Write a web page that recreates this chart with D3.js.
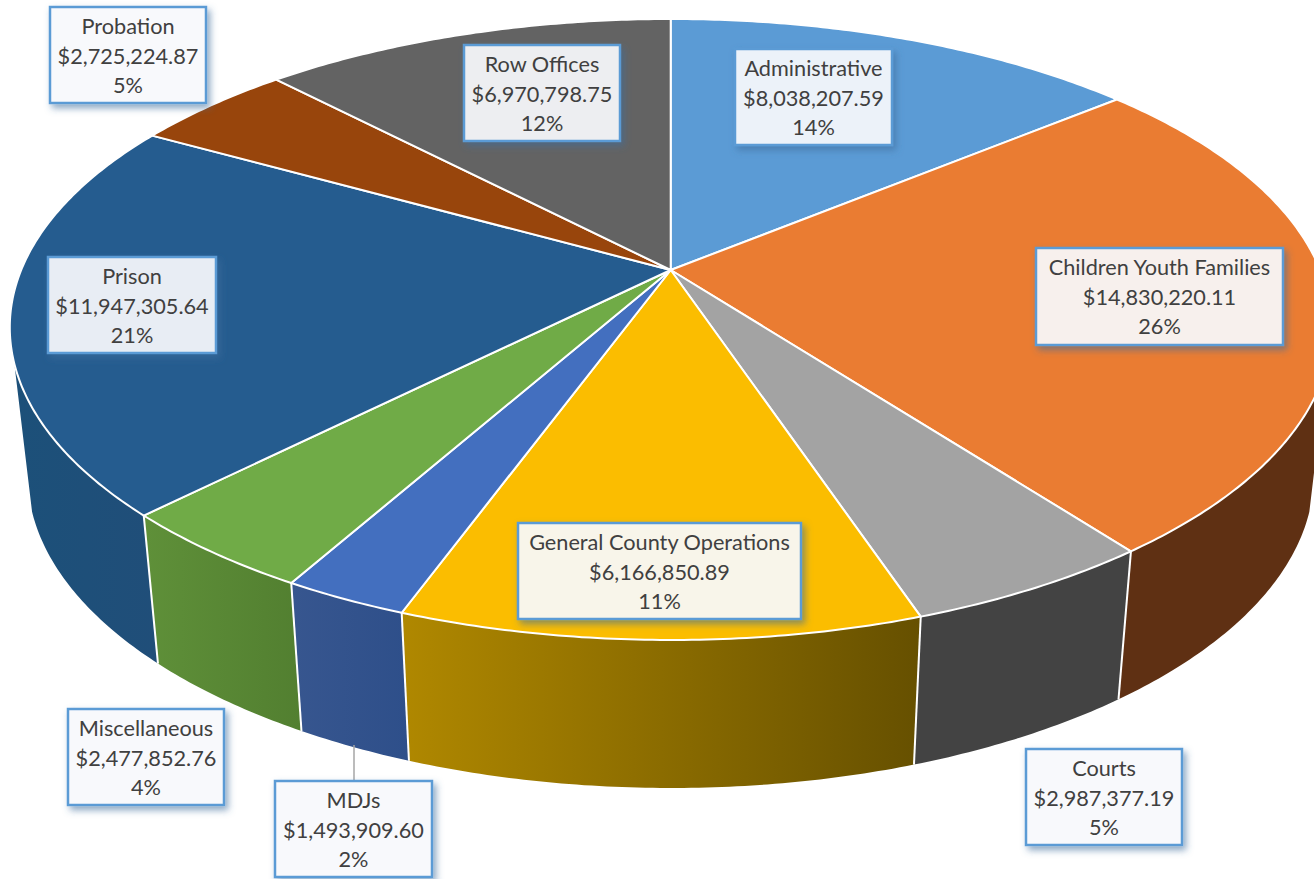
<!DOCTYPE html>
<html>
<head>
<meta charset="utf-8">
<script src="https://cdn.jsdelivr.net/npm/d3@7"></script>
<style>
html, body { margin: 0; padding: 0; background: #fff; }
svg { display: block; }
</style>
</head>
<body>
<svg width="1314" height="879"></svg>
<script>
let categories = ["Administrative", "Children Youth Families", "Courts", "General County Operations", "MDJs", "Miscellaneous", "Prison", "Probation", "Row Offices"];
let values = [8038207.59, 14830220.11, 2987377.19, 6166850.89, 1493909.60, 2477852.76, 11947305.64, 2725224.87, 6970798.75];
let percentLabels = ["14%", "26%", "5%", "11%", "2%", "4%", "21%", "5%", "12%"];

let topColors = ["#5b9bd5", "#ea7c32", "#a3a3a3", "#fbbd00", "#436fbf", "#70ab47", "#255c8f", "#98450c", "#636363"];
let sideLeft = ["#3a6a96", "#5f3013", "#434343", "#b08800", "#37568f", "#5f9039", "#1c5079", "#662e08", "#434343"];
let sideRight = ["#3a6a96", "#5f3013", "#434343", "#665000", "#2e4f8a", "#527f30", "#204e79", "#662e08", "#434343"];

// label box corners, same order as categories: x0, y0, x1, y1
let boxes = [
	[735, 49, 892, 145],
	[1036, 248, 1283, 345],
	[1026, 749, 1182, 845],
	[518, 523, 801, 619],
	[275, 781, 432, 877],
	[68, 709, 224, 805],
	[48, 257, 216, 353],
	[50, 7, 206, 103],
	[464, 45, 620, 141]
];

let svg = d3.select("svg");
let defs = svg.append("defs");

// tilted disc: the centre sits above the middle of the ellipse
let cx = 670.7, cy = 270;
let xRadius = 649.5, yRadius = 299.1;
let xTilt = 0.185, yTilt = 0.1916;
let depth = 148, bottomScale = 0.973;
let wallFrom = 107.2 * Math.PI / 180, wallTo = 252.8 * Math.PI / 180;

let rimTop = a => {
	let u = Math.sin(a), v = -Math.cos(a);
	return [cx + xRadius * u / (1 - xTilt * v), cy + yRadius * v / (1 - yTilt * v)];
};
let rimBottom = a => {
	let p = rimTop(a);
	return [cx + (p[0] - cx) * bottomScale, p[1] + depth];
};

let steps = (a0, a1) => {
	let n = Math.max(2, Math.ceil((a1 - a0) / 0.01));
	return d3.range(n + 1).map(i => a0 + (a1 - a0) * i / n);
};

let line = d3.line();
let arcs = d3.pie().sort(null)(values);

let gradient = defs.selectAll("linearGradient").data(arcs).enter().append("linearGradient")
	.attr("id", (d, i) => "wall" + i);
gradient.append("stop").attr("offset", 0).attr("stop-color", (d, i) => sideLeft[i]);
gradient.append("stop").attr("offset", 1).attr("stop-color", (d, i) => sideRight[i]);

// shadow only, knocked out under the box so the box fill stays clean
let shadow = defs.append("filter").attr("id", "shadow")
	.attr("x", "-10%").attr("y", "-15%").attr("width", "125%").attr("height", "140%");
shadow.append("feGaussianBlur").attr("in", "SourceAlpha").attr("stdDeviation", 3.5).attr("result", "blur");
shadow.append("feOffset").attr("in", "blur").attr("dx", 3).attr("dy", 4).attr("result", "moved");
shadow.append("feFlood").attr("flood-color", "#3f6d9c").attr("flood-opacity", 0.6).attr("result", "tint");
shadow.append("feComposite").attr("in", "tint").attr("in2", "moved").attr("operator", "in").attr("result", "soft");
shadow.append("feComposite").attr("in", "soft").attr("in2", "SourceAlpha").attr("operator", "out");

// front walls, only what faces the viewer
let visible = arcs.filter(d => d.endAngle > wallFrom && d.startAngle < wallTo);

svg.append("g").selectAll("path").data(visible).enter().append("path")
	.attr("fill", d => `url(#wall${d.index})`)
	.attr("d", d => {
		let a = steps(Math.max(d.startAngle, wallFrom), Math.min(d.endAngle, wallTo));
		return line(a.map(rimTop).concat(a.slice().reverse().map(rimBottom))) + "Z";
	});

svg.append("g").selectAll("line")
	.data(arcs.filter(d => d.startAngle > wallFrom && d.startAngle < wallTo))
	.enter().append("line")
	.attr("x1", d => rimTop(d.startAngle)[0])
	.attr("y1", d => rimTop(d.startAngle)[1])
	.attr("x2", d => rimBottom(d.startAngle)[0])
	.attr("y2", d => rimBottom(d.startAngle)[1])
	.attr("stroke", "#fff")
	.attr("stroke-width", 2);

// top face
svg.append("g").selectAll("path").data(arcs).enter().append("path")
	.attr("fill", (d, i) => topColors[i])
	.attr("stroke", "#fff")
	.attr("stroke-width", 2)
	.attr("stroke-linejoin", "round")
	.attr("d", d => line([[cx, cy]].concat(steps(d.startAngle, d.endAngle).map(rimTop))) + "Z");

// leader line of the MDJs label
let mdjs = categories.indexOf("MDJs");
svg.append("line")
	.attr("x1", (boxes[mdjs][0] + boxes[mdjs][2]) / 2 + 0.5)
	.attr("x2", (boxes[mdjs][0] + boxes[mdjs][2]) / 2 + 0.5)
	.attr("y1", rimBottom((arcs[mdjs].startAngle + arcs[mdjs].endAngle) / 2)[1] - 2)
	.attr("y2", boxes[mdjs][1])
	.attr("stroke", "#a6a6a6")
	.attr("stroke-width", 1.5);

// data labels
let money = d3.format("$,.2f");
let label = svg.append("g").selectAll("g").data(categories).enter().append("g");

let boxRect = sel => sel
	.attr("x", (d, i) => boxes[i][0])
	.attr("y", (d, i) => boxes[i][1])
	.attr("width", (d, i) => boxes[i][2] - boxes[i][0])
	.attr("height", (d, i) => boxes[i][3] - boxes[i][1])
	.attr("stroke", "#5b9bd5")
	.attr("stroke-width", 2.5);

label.append("rect").call(boxRect)
	.attr("fill", "#000")
	.attr("filter", "url(#shadow)");

label.append("rect").call(boxRect)
	.attr("fill", "#f8f9fc")
	.attr("fill-opacity", 0.93);

label.each(function(d, i) {
	let rows = [d, money(values[i]), percentLabels[i]];
	d3.select(this).selectAll("text").data(rows).enter().append("text")
		.attr("x", (boxes[i][0] + boxes[i][2]) / 2)
		.attr("y", (r, j) => boxes[i][1] + 27 + j * 29.5)
		.attr("text-anchor", "middle")
		.attr("font-family", "Lato, sans-serif")
		.attr("font-size", 21.7)
		.attr("fill", "#404040")
		.text(r => r);
});
</script>
</body>
</html>
